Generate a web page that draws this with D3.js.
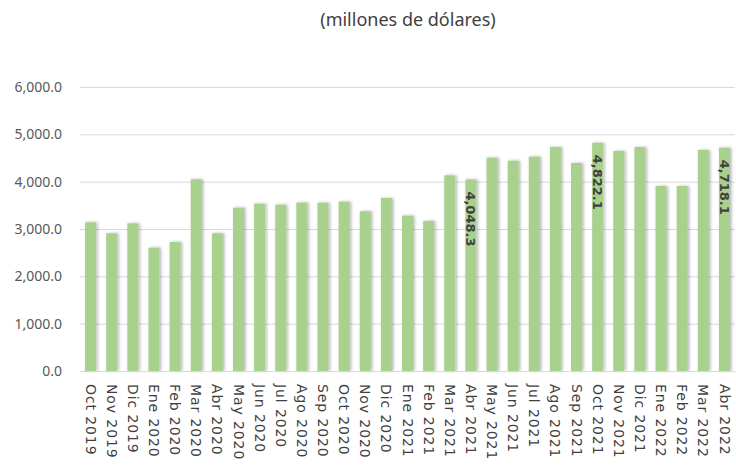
<!DOCTYPE html>
<html>
<head>
<meta charset="utf-8">
<script src="https://cdn.jsdelivr.net/npm/d3@7"></script>
<style>
  body { margin: 0; background: #fff; }
  svg { display: block; }
  .grid line { stroke: #d9d9d9; stroke-width: 1; }
  .grid .domain { display: none; }
  .yaxis text { font-family: "Noto Sans", sans-serif; font-size: 14px; fill: #595959; }
  .xaxis text { font-family: "DejaVu Sans", sans-serif; font-size: 14px; fill: #404040; letter-spacing: 0.9px; }
  .title { font-family: "Noto Sans", sans-serif; font-size: 18px; fill: #404040; }
  .label { font-family: "DejaVu Sans", sans-serif; font-size: 13px; font-weight: bold; fill: #404040; }
</style>
</head>
<body>
<svg id="chart"></svg>
<script>
const months = ['Oct 2019', 'Nov 2019', 'Dic 2019', 'Ene 2020', 'Feb 2020', 'Mar 2020', 'Abr 2020',
    'May 2020', 'Jun 2020', 'Jul 2020', 'Ago 2020', 'Sep 2020', 'Oct 2020', 'Nov 2020', 'Dic 2020',
    'Ene 2021', 'Feb 2021', 'Mar 2021', 'Abr 2021', 'May 2021', 'Jun 2021', 'Jul 2021', 'Ago 2021',
    'Sep 2021', 'Oct 2021', 'Nov 2021', 'Dic 2021', 'Ene 2022', 'Feb 2022', 'Mar 2022', 'Abr 2022']

const values = [3141, 2909, 3120, 2606, 2726, 4050, 2909,
    3451, 3535, 3514, 3557, 3557, 3578, 3374, 3655,
    3282, 3169, 4134, 4048.3, 4507, 4443, 4528, 4733,
    4395, 4822.1, 4648, 4733, 3909, 3909, 4669, 4718.1]

// only these months carry a value label
const labelled = ['Abr 2021', 'Oct 2021', 'Abr 2022']

const yTicks = [0, 1000, 2000, 3000, 4000, 5000, 6000]

const W = 736, H = 465
const margin = { top: 87, right: 1, bottom: 94, left: 80 }

const svg = d3.select('#chart')
    .attr('width', W)
    .attr('height', H)

// bar shadow
const defs = svg.append('defs')
const filt = defs.append('filter').attr('id', 'shadow')
    .attr('x', '-50%').attr('y', '-10%').attr('width', '200%').attr('height', '120%')
filt.append('feDropShadow')
    .attr('dx', 1.5).attr('dy', 0)
    .attr('stdDeviation', 1.5)
    .attr('flood-color', '#000')
    .attr('flood-opacity', 0.3)

const x = d3.scaleBand()
    .domain(months)
    .range([margin.left, W - margin.right])
    .paddingInner(0.48)
    .paddingOuter(0.24)

const y = d3.scaleLinear()
    .domain([0, 6000])
    .range([H - margin.bottom, margin.top])

// title
svg.append('text').classed('title', true)
    .attr('x', 408)
    .attr('y', 26)
    .attr('text-anchor', 'middle')
    .text('(millones de dólares)')

// gridlines
svg.append('g').classed('grid', true)
    .attr('transform', `translate(${margin.left},0)`)
    .call(d3.axisLeft(y)
        .tickValues(yTicks)
        .tickSize(-(W - margin.right - margin.left))
        .tickFormat(''))

// y axis labels
svg.append('g').classed('yaxis', true)
    .attr('transform', `translate(${margin.left - 15},0)`)
    .call(d3.axisLeft(y)
        .tickValues(yTicks)
        .tickSize(0)
        .tickFormat(d3.format(',.1f')))
    .call(g => g.select('.domain').remove())

// bars
svg.append('g').classed('bars', true)
    .selectAll('rect')
    .data(months)
    .enter()
        .append('rect')
        .attr('x', d => x(d))
        .attr('y', (d, i) => y(values[i]))
        .attr('width', x.bandwidth())
        .attr('height', (d, i) => y(0) - y(values[i]))
        .attr('fill', '#a9d18e')
        .attr('filter', 'url(#shadow)')

// x axis
svg.append('g').classed('xaxis', true)
    .attr('transform', `translate(0,${H - margin.bottom})`)
    .call(d3.axisBottom(x).tickSize(0))
    .call(g => g.select('.domain').attr('stroke', '#d9d9d9'))
    .selectAll('text')
        .attr('transform', 'rotate(90)')
        .attr('text-anchor', 'start')
        .attr('x', 13)
        .attr('y', 0)
        .attr('dy', '0.35em')

// value labels, rotated inside the bar top
svg.append('g').classed('labels', true)
    .selectAll('text')
    .data(months.filter(m => labelled.includes(m)))
    .enter()
        .append('text').classed('label', true)
        .attr('transform', d => {
            const v = values[months.indexOf(d)]
            return `translate(${x(d) + x.bandwidth() / 2},${y(v) + 12}) rotate(90)`
        })
        .attr('dy', '0.35em')
        .text(d => d3.format(',.1f')(values[months.indexOf(d)]))
</script>
</body>
</html>
